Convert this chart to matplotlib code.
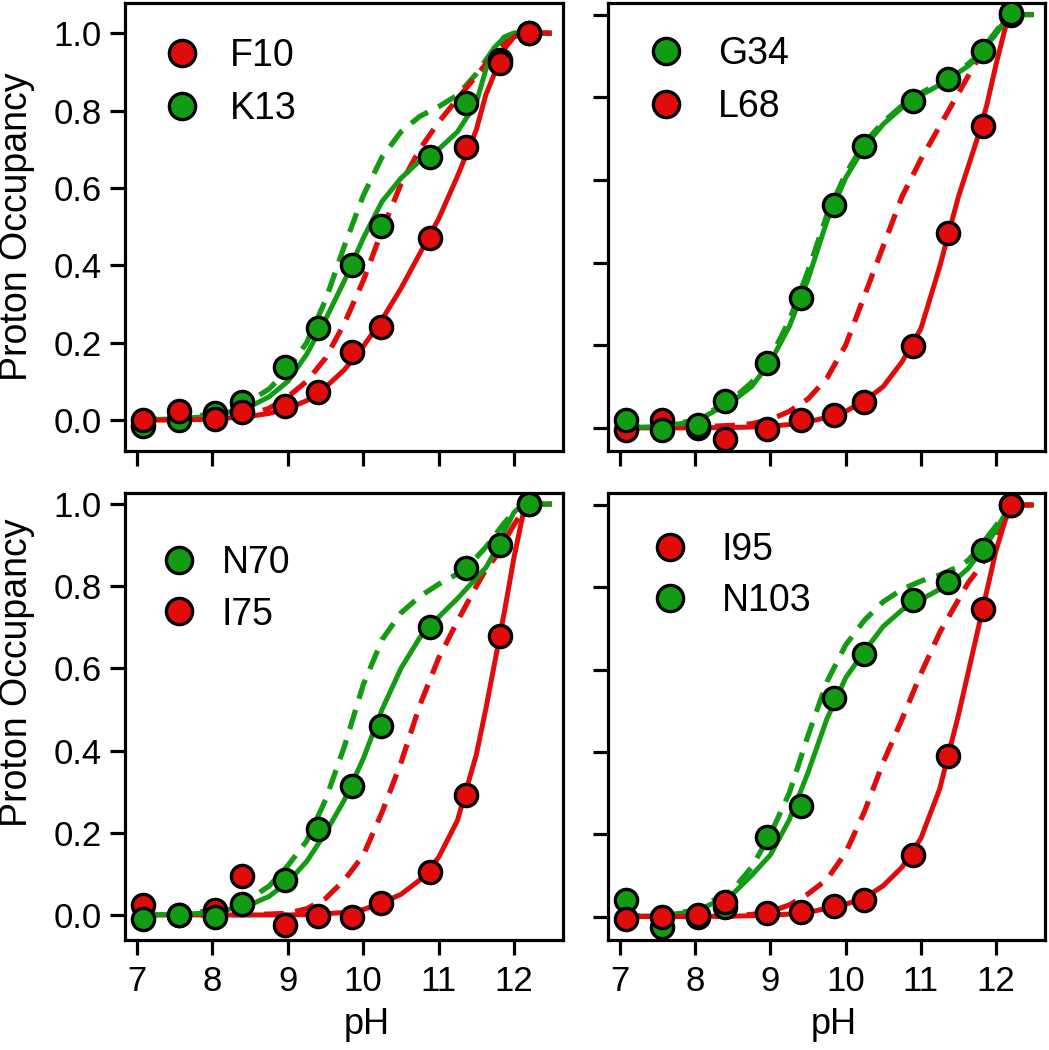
import matplotlib.pyplot as plt

plt.rcParams['font.family'] = ['Liberation Sans', 'DejaVu Sans']

RED = '#e00b0b'
GREEN = '#149b14'

# measured pH values (same for all residues)
ph_pts = [7.08, 7.56, 8.04, 8.39, 8.96, 9.40, 9.85, 10.24, 10.89, 11.36, 11.82, 12.2]
# pH values where the fitted curves were read
ph_fit = [7.0, 7.5, 8.0, 8.5, 8.75, 9.0, 9.25, 9.5, 9.75, 10.0, 10.25, 10.5, 10.75,
          11.0, 11.25, 11.5, 11.625, 11.75, 11.875, 12.0, 12.125, 12.25, 12.5]

# top left
f10_pts = [0.0, 0.024, 0.004, 0.022, 0.036, 0.073, 0.177, 0.241, 0.47, 0.707, 0.922, 1.0]
k13_pts = [-0.015, 0.0, 0.017, 0.047, 0.138, 0.237, 0.40, 0.502, 0.681, 0.819, 0.93, 1.0]
f10_fit = [0.0, 0.0, 0.002, 0.01, 0.017, 0.03, 0.05, 0.085, 0.13, 0.19, 0.26, 0.34, 0.43,
           0.52, 0.63, 0.75, 0.84, 0.90, 0.96, 0.99, 1.0, 1.0, 1.0]
f10_dash = [0.0, 0.002, 0.005, 0.015, 0.03, 0.06, 0.10, 0.16, 0.25, 0.36, 0.49, 0.61, 0.70,
            0.77, 0.83, 0.89, 0.92, 0.95, 0.975, 0.993, 1.0, 1.0, 1.0]
k13_fit = [0.0, 0.003, 0.01, 0.035, 0.06, 0.10, 0.17, 0.26, 0.36, 0.47, 0.565, 0.625, 0.67,
           0.70, 0.745, 0.82, 0.905, 0.965, 0.99, 1.0, 1.0, 1.0, 1.0]
k13_dash = [0.0, 0.005, 0.015, 0.05, 0.08, 0.13, 0.20, 0.31, 0.45, 0.58, 0.68, 0.745, 0.785,
            0.81, 0.84, 0.895, 0.93, 0.965, 0.99, 1.0, 1.0, 1.0, 1.0]

# top right
g34_pts = [0.019, -0.004, 0.006, 0.065, 0.157, 0.315, 0.54, 0.681, 0.79, 0.843, 0.911, 1.004]
l68_pts = [-0.004, 0.019, 0.0, -0.027, -0.002, 0.019, 0.03, 0.062, 0.198, 0.472, 0.73, 1.0]
g34_fit = [0.0, 0.003, 0.015, 0.065, 0.10, 0.16, 0.245, 0.36, 0.50, 0.605, 0.68, 0.735, 0.775,
           0.805, 0.83, 0.86, 0.875, 0.895, 0.925, 0.955, 0.985, 1.0, 1.0]
g34_dash = [0.0, 0.004, 0.018, 0.07, 0.11, 0.17, 0.26, 0.38, 0.515, 0.615, 0.69, 0.74, 0.78,
            0.81, 0.835, 0.865, 0.88, 0.90, 0.93, 0.96, 0.99, 1.0, 1.0]
l68_fit = [0.0, 0.0, 0.0, 0.001, 0.002, 0.004, 0.008, 0.015, 0.025, 0.04, 0.065, 0.10, 0.16,
           0.24, 0.39, 0.56, 0.63, 0.70, 0.78, 0.88, 0.97, 1.0, 1.0]
l68_dash = [0.0, 0.0, 0.002, 0.006, 0.01, 0.02, 0.04, 0.07, 0.12, 0.20, 0.32, 0.44, 0.56,
            0.65, 0.73, 0.81, 0.85, 0.89, 0.92, 0.955, 0.985, 1.0, 1.0]

# bottom left
n70_pts = [-0.009, 0.0, -0.004, 0.027, 0.084, 0.209, 0.315, 0.459, 0.701, 0.845, 0.90, 1.0]
i75_pts = [0.024, 0.0, 0.012, 0.095, -0.024, -0.003, -0.004, 0.028, 0.104, 0.293, 0.68, 1.0]
n70_fit = [0.0, 0.001, 0.005, 0.025, 0.045, 0.08, 0.13, 0.20, 0.28, 0.38, 0.50, 0.60, 0.675,
           0.725, 0.77, 0.82, 0.845, 0.885, 0.935, 0.98, 1.0, 1.0, 1.0]
n70_dash = [0.0, 0.003, 0.01, 0.04, 0.07, 0.12, 0.18, 0.28, 0.41, 0.56, 0.67, 0.735, 0.775,
            0.805, 0.83, 0.87, 0.895, 0.925, 0.955, 0.98, 0.997, 1.0, 1.0]
i75_fit = [0.0, 0.0, 0.0, 0.0, 0.0, 0.0, 0.001, 0.003, 0.006, 0.013, 0.03, 0.05, 0.085,
           0.14, 0.23, 0.39, 0.50, 0.62, 0.74, 0.87, 0.98, 1.0, 1.0]
i75_dash = [0.0, 0.0, 0.0, 0.001, 0.002, 0.004, 0.015, 0.04, 0.085, 0.145, 0.25, 0.37, 0.51,
            0.625, 0.715, 0.80, 0.84, 0.87, 0.91, 0.95, 0.985, 1.0, 1.0]

# bottom right
i95_pts = [-0.006, 0.0, 0.004, 0.035, 0.009, 0.011, 0.026, 0.041, 0.15, 0.39, 0.748, 1.0]
n103_pts = [0.04, -0.026, 0.0, 0.022, 0.193, 0.268, 0.532, 0.639, 0.77, 0.812, 0.891, 1.0]
i95_fit = [0.0, 0.0, 0.0, 0.001, 0.002, 0.003, 0.006, 0.01, 0.02, 0.03, 0.045, 0.075, 0.12,
           0.19, 0.31, 0.49, 0.59, 0.69, 0.79, 0.89, 0.965, 1.0, 1.0]
i95_dash = [0.0, 0.0, 0.0, 0.002, 0.005, 0.012, 0.028, 0.055, 0.09, 0.155, 0.255, 0.375, 0.48,
            0.59, 0.69, 0.77, 0.81, 0.84, 0.875, 0.92, 0.97, 1.0, 1.0]
n103_fit = [0.0, 0.002, 0.012, 0.055, 0.10, 0.15, 0.235, 0.35, 0.48, 0.58, 0.645, 0.705, 0.745,
            0.77, 0.795, 0.825, 0.845, 0.875, 0.905, 0.94, 0.98, 1.0, 1.0]
n103_dash = [0.0, 0.003, 0.015, 0.065, 0.12, 0.20, 0.30, 0.44, 0.57, 0.66, 0.72, 0.765, 0.795,
             0.815, 0.83, 0.85, 0.865, 0.89, 0.92, 0.95, 0.98, 1.0, 1.0]

panels = [
    [('F10', f10_pts, f10_fit, f10_dash, RED), ('K13', k13_pts, k13_fit, k13_dash, GREEN)],
    [('G34', g34_pts, g34_fit, g34_dash, GREEN), ('L68', l68_pts, l68_fit, l68_dash, RED)],
    [('N70', n70_pts, n70_fit, n70_dash, GREEN), ('I75', i75_pts, i75_fit, i75_dash, RED)],
    [('I95', i95_pts, i95_fit, i95_dash, RED), ('N103', n103_pts, n103_fit, n103_dash, GREEN)],
]

fig = plt.figure(figsize=(10.49, 10.50), dpi=100)

W, H = 1049, 1050
boxes = [(125, 3, 563, 451), (608, 3, 1045, 451), (125, 493, 563, 940), (608, 493, 1045, 940)]
ylims = [(-0.080, 1.078), (-0.056, 1.028), (-0.061, 1.027), (-0.057, 1.029)]
leg_anchor = [(0.088, 0.922), (0.089, 0.926), (0.081, 0.884), (0.1, 0.912)]
leg_space = [0.45, 0.45, 0.42, 0.40]
leg_pad = [0.76, 0.89, 0.63, 0.87]

for i, series in enumerate(panels):
    x0, y0, x1, y1 = boxes[i]
    ax = fig.add_axes([x0 / W, 1 - y1 / H, (x1 - x0) / W, (y1 - y0) / H])

    for name, pts, fit, dash, col in series[::-1]:
        ax.plot(ph_fit, dash, color=col, lw=3.8, ls=(0, (3.8, 2.2)), zorder=2)
    for name, pts, fit, dash, col in series[::-1]:
        ax.plot(ph_fit, fit, color=col, lw=3.6, zorder=3,
                solid_joinstyle='round', solid_capstyle='butt')
    handles = []
    for name, pts, fit, dash, col in series[::-1]:
        h, = ax.plot(ph_pts, pts, 'o', ms=16, mfc=col, mec='black', mew=2.4,
                     label=name, zorder=4)
        handles.append(h)

    ax.legend(handles=handles[::-1], loc='upper left', bbox_to_anchor=leg_anchor[i],
              frameon=False, fontsize=27, borderpad=0, borderaxespad=0,
              handlelength=1.0, handletextpad=leg_pad[i], labelspacing=leg_space[i],
              markerscale=1.18)

    ax.set_xlim(6.84, 12.65)
    ax.set_ylim(*ylims[i])
    ax.set_xticks([7, 8, 9, 10, 11, 12])
    ax.set_yticks([0.0, 0.2, 0.4, 0.6, 0.8, 1.0])
    ax.set_yticklabels(['0.0', '0.2', '0.4', '0.6', '0.8', '1.0'])
    for s in ax.spines.values():
        s.set_linewidth(2.3)
    ax.tick_params(direction='out', length=11, width=2.3, labelsize=25, pad=6)
    ax.tick_params(axis='x', pad=7)

    if i < 2:
        ax.tick_params(axis='x', labelbottom=False)
    else:
        ax.set_xlabel('pH', fontsize=26)
    if i % 2 == 1:
        ax.tick_params(axis='y', labelleft=False)
    else:
        ax.set_ylabel('Proton Occupancy', fontsize=27)

    if i == 0:
        ax.yaxis.set_label_coords(-0.205, 0.5)
    elif i == 2:
        ax.yaxis.set_label_coords(-0.205, 0.597)
        ax.xaxis.set_label_coords(0.553, -0.15)
    elif i == 3:
        ax.xaxis.set_label_coords(0.517, -0.15)

plt.savefig('out.png', dpi=100)
